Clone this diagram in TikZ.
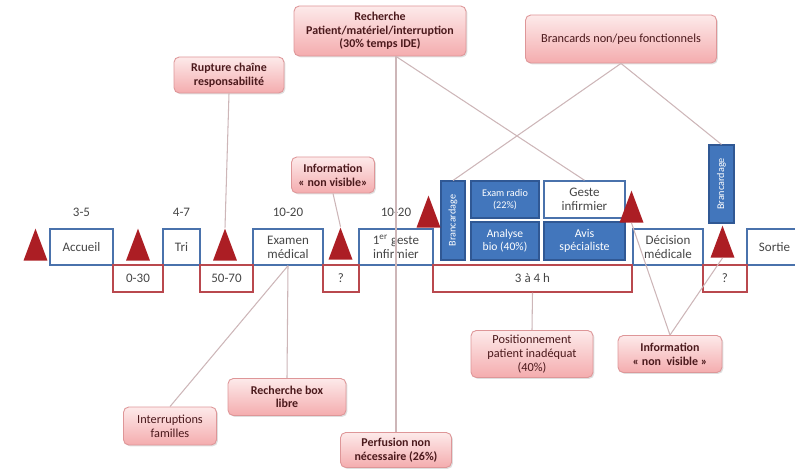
\documentclass[tikz,border=0pt]{standalone}
\usepackage{fontspec}
\setmainfont{Carlito}
\usetikzlibrary{shapes,shapes.geometric,positioning,shadows}

\definecolor{stepblue}{RGB}{74,114,172}
\definecolor{waitred}{RGB}{185,72,78}
\definecolor{actblue}{RGB}{66,118,188}
\definecolor{actedge}{RGB}{48,88,148}
\definecolor{pinktop}{RGB}{253,234,234}
\definecolor{pinkbot}{RGB}{244,172,174}
\definecolor{pinkedge}{RGB}{222,150,152}
\definecolor{linkgray}{RGB}{205,182,184}
\definecolor{alertred}{RGB}{172,30,36}
\definecolor{textgray}{RGB}{70,70,70}
\definecolor{notetext}{RGB}{75,25,28}

\begin{document}
\begin{tikzpicture}[
    x=0.02cm, y=-0.02cm,
    font=\fontsize{7.4}{8}\selectfont,
    stepbox/.style={rectangle, draw=stepblue, line width=0.8pt, fill=white, text=textgray, align=center, minimum height=0.72cm, inner sep=1pt},
    waitbox/.style={rectangle, draw=waitred, line width=0.8pt, text=textgray, minimum height=0.54cm, inner sep=1pt},
    actbox/.style={rectangle, draw=actedge, line width=0.6pt, fill=actblue, text=white, align=center, font=\fontsize{5.8}{6.8}\selectfont, inner sep=1pt},
    alert/.style={isosceles triangle, shape border rotate=90, isosceles triangle stretches, minimum width=0.48cm, minimum height=0.64cm, inner sep=0pt, fill=alertred, anchor=lower side},
    note/.style={rectangle, rounded corners=3pt, draw=pinkedge, line width=0.5pt, top color=pinktop, bottom color=pinkbot, text=notetext, align=center, inner sep=1pt, font=\fontsize{7}{8}\selectfont, drop shadow={opacity=0.25, shadow xshift=0.8pt, shadow yshift=-0.8pt}},
    hot/.style={note, font=\fontsize{6.8}{7.8}\selectfont\bfseries},
    link/.style={draw=linkgray, line width=0.6pt},
    duree/.style={text=textgray}
]
\useasboundingbox (0,0) rectangle (795,469);

% steps of the patient pathway
\node[stepbox, minimum width=1.26cm] (accueil) at (81.5,247) {Accueil};
\node[stepbox, minimum width=0.74cm] (tri) at (181.5,247) {Tri};
\node[stepbox, minimum width=1.40cm] (examen) at (288,247) {Examen\\médical};
\node[stepbox, minimum width=1.48cm] (geste1) at (396,247) {1\textsuperscript{er} geste\\infirmier};
\node[stepbox, minimum width=1.40cm] (decision) at (668,247) {Décision\\médicale};
\node[stepbox, minimum width=1.20cm] (sortie) at (777,247) {\hspace*{-0.1cm}Sortie};

% waiting times
\node[waitbox, minimum width=1.00cm] (w030) at (138,278.5) {0-30};
\node[waitbox, minimum width=1.06cm] (w5070) at (226.5,278.5) {50-70};
\node[waitbox, minimum width=0.72cm] (wq1) at (341,278.5) {?};
\node[waitbox, minimum width=3.98cm] (w34) at (532.5,278.5) {3 à 4 h};
\node[waitbox, minimum width=0.88cm] (wq2) at (725,278.5) {?};

% durations
\node[duree, above=0.12cm of accueil] (d1) {3-5};
\node[duree, above=0.12cm of tri] (d2) {4-7};
\node[duree, above=0.12cm of examen] (d3) {10-20};
\node[duree, above=0.12cm of geste1] (d4) {10-20};

% activities during the wait
\node[actbox, rotate=90, minimum width=1.58cm, minimum height=0.48cm] (branc1) at (453,220.5) {Brancardage};
\node[actbox, minimum width=1.36cm, minimum height=0.74cm] (radio) at (505,199.5) {Exam radio\\(22\%)};
\node[actbox, minimum width=1.36cm, minimum height=0.76cm, font=\fontsize{6.6}{7.6}\selectfont] (bio) at (505,241) {Analyse\\bio (40\%)};
\node[stepbox, minimum width=1.62cm, minimum height=0.74cm] (geste2) at (584.5,199.5) {Geste\\infirmier};
\node[actbox, minimum width=1.62cm, minimum height=0.76cm, font=\fontsize{6.8}{7.8}\selectfont] (avis) at (584.5,241) {Avis\\spécialiste};
\node[actbox, rotate=90, minimum width=1.56cm, minimum height=0.5cm] (branc2) at (721.5,184) {Brancardage};

% alerts
\node[alert] (t1) at (35.5,261) {};
\node[alert] (t2) at (138,261) {};
\node[alert] (t3) at (225,261) {};
\node[alert] (t4) at (340.5,260) {};
\node[alert] (t5) at (428.5,228) {};
\node[alert] (t6) at (631.5,223) {};
\node[alert] (t7) at (722.5,258) {};

% problems
\node[hot, minimum width=3.44cm, minimum height=1.0cm] (rech) at (380,31) {Recherche\\Patient/matériel/interruption\\(30\% temps IDE)};
\node[note, minimum width=3.82cm, minimum height=0.96cm] (brancards) at (621,39) {Brancards non/peu fonctionnels};
\node[hot, minimum width=2.2cm, minimum height=0.72cm] (rupt) at (229,75) {Rupture chaîne\\responsabilité};
\node[hot, minimum width=1.66cm, minimum height=0.72cm] (info1) at (333,175) {Information\\«~non visible»};
\node[note, minimum width=1.86cm, minimum height=0.76cm] (inter) at (170,426) {Interruptions\\familles};
\node[hot, minimum width=2.36cm, minimum height=0.74cm] (boxlibre) at (287,397) {Recherche box\\libre};
\node[hot, minimum width=2.22cm, minimum height=0.7cm] (perf) at (396,450) {Perfusion non\\nécessaire (26\%)};
\node[note, minimum width=2.44cm, minimum height=0.94cm] (posit) at (532,354) {Positionnement\\patient inadéquat\\(40\%)};
\node[hot, minimum width=2.08cm, minimum height=0.74cm] (info2) at (670,354) {Information\\«~non ~visible~»};

\coordinate (rechfoot) at (perf.north |- rech.south);

\draw[link] (rupt.south) -- (t3.apex);
\draw[link] (rechfoot) -- (perf.north);
\draw[link] (rechfoot) -- (geste2.north);
\draw[link] (brancards.south) -- (branc1.east);
\draw[link] (brancards.south) -- (branc2.east);
\draw[link] (info1.south) -- (t4.apex);
\draw[link] (inter.north) -- (examen.south);
\draw[link] (boxlibre.north) -- (examen.south);
\draw[link] (posit.north) -- (w34.south);
\draw[link] (info2.north) -- (t6.lower side);
\draw[link] (info2.north) -- (t7.lower side);

\end{tikzpicture}
\end{document}
